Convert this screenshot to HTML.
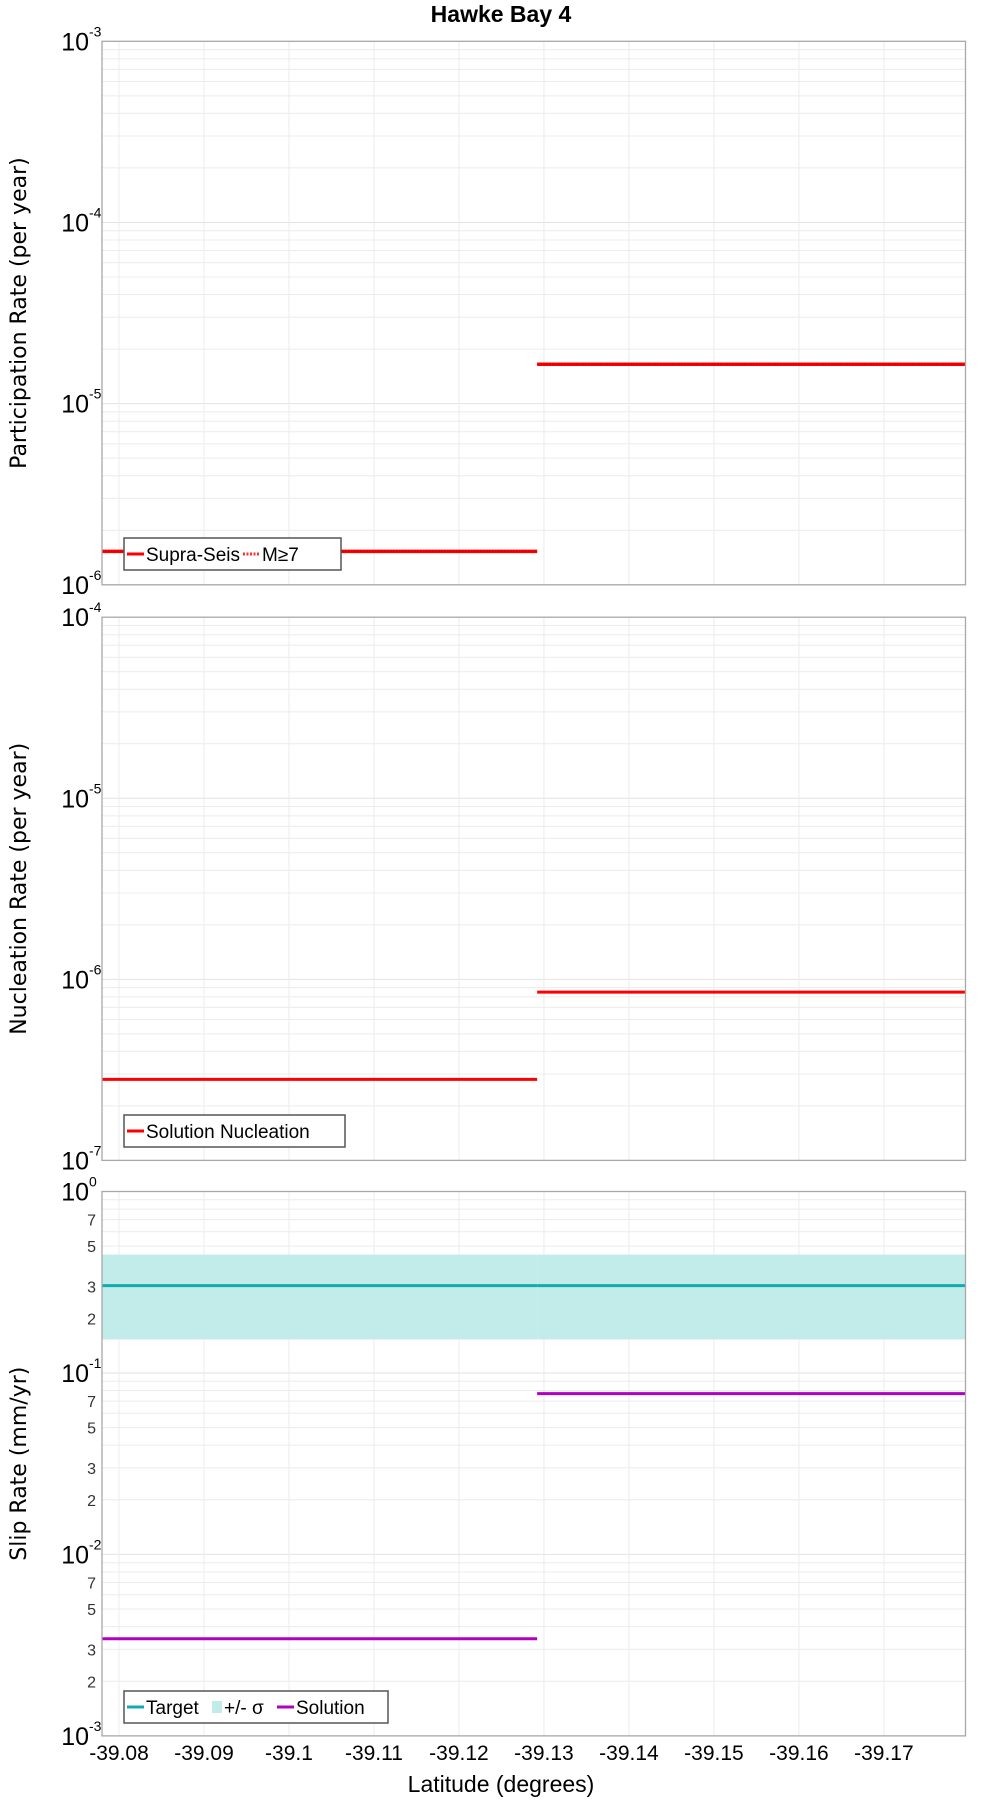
<!DOCTYPE html>
<html><head><meta charset="utf-8"><style>
html,body{margin:0;padding:0;background:#fff;}
svg{display:block;font-family:"Liberation Sans",sans-serif;}
</style></head><body>
<svg id="chart" width="1000" height="1800" viewBox="0 0 1000 1800" xmlns="http://www.w3.org/2000/svg">
<text x="501" y="22" text-anchor="middle" font-size="23" font-weight="bold">Hawke Bay 4</text>
<text x="501" y="1792" text-anchor="middle" font-size="23">Latitude (degrees)</text>
</svg>
<script>
const xTicks = [-39.08,-39.09,-39.1,-39.11,-39.12,-39.13,-39.14,-39.15,-39.16,-39.17];
const xDomain = [-39.078,-39.1796];
const segLat = [-39.078,-39.1292,-39.1796];
const partSupra = [1.53e-6,1.65e-5];
const partM7 = [1.53e-6,1.65e-5];
const nuclSol = [2.8e-7,8.5e-7];
const slipTarget = [0.303,0.303];
const slipUpper = [0.449,0.449];
const slipLower = [0.153,0.153];
const slipSol = [0.00343,0.077];
const panel1Decades = [-6,-3];
const panel2Decades = [-7,-4];
const panel3Decades = [-3,0];

const NS="http://www.w3.org/2000/svg";
const svg=document.getElementById('chart');
const L=102,R=965.5;
function xs(v){return L+(v-xDomain[0])/(xDomain[1]-xDomain[0])*(R-L);}
function mk(tag,attrs,parent){const e=document.createElementNS(NS,tag);for(const k in attrs)e.setAttribute(k,attrs[k]);(parent||svg).appendChild(e);return e;}

function panel(top,bot,dec,title,name,minorLabels){
  const g=mk('g',{});
  
  
  const ys=v=>bot-(Math.log10(v)-dec[0])/(dec[1]-dec[0])*(bot-top);
  for(let d=dec[0];d<dec[1];d++){for(let m=1;m<10;m++){const y=ys(m*Math.pow(10,d));
    const ln=mk('line',{x1:L,x2:R,y1:y,y2:y,stroke:m===1?'#e2e2e2':'#ececec','stroke-width':1},g);
    }}
  xTicks.forEach(t=>{const x=xs(t);const ln=mk('line',{x1:x,x2:x,y1:top,y2:bot,stroke:'#ececec','stroke-width':1},g);
    });
  for(let d=dec[0];d<=dec[1];d++){const y=ys(Math.pow(10,d));
    const t=mk('text',{x:89,y:y+9,'text-anchor':'end','font-size':25},g);
    
    t.textContent='10';
    const s=mk('text',{x:89,y:y-5,'font-size':14},g);s.textContent=String(d);
    }
  if(minorLabels){for(let d=dec[0];d<dec[1];d++){[2,3,5,7].forEach(m=>{const y=ys(m*Math.pow(10,d));
    const t=mk('text',{x:96,y:y+6,'text-anchor':'end','font-size':16,fill:'#333'},g);t.textContent=m;
    });}}
  const yt=mk('text',{x:0,y:0,'text-anchor':'middle','font-size':22,'font-family':'"DejaVu Sans",sans-serif',transform:`translate(26,${(top+bot)/2}) rotate(-90)`},g);
  yt.textContent=title;
  return {g,ys};
}
function steps(g,ys,vals,attrs,name){
  vals.forEach((v,i)=>{const y=ys(v);const a=Object.assign({x1:xs(segLat[i]),x2:xs(segLat[i+1]),y1:y,y2:y},attrs);
    const ln=mk('line',a,g);});
}
function border(g,top,bot){const r=mk('rect',{x:L,y:top,width:R-L,height:bot-top,fill:'none',stroke:'#a8a8a8','stroke-width':1.3},g);
  }
function legend(g,x,y,w,items){
  const box=mk('g',{},g);
  mk('rect',{x:x,y:y,width:w,height:32,fill:'#fff',stroke:'#555','stroke-width':1.5},box);
  let cx=x+3;
  items.forEach(it=>{const e=mk('g',{},box);
    if(it.band){mk('rect',{x:cx,y:y+10,width:10,height:12,fill:'#c2ecea'},e);cx+=12;}
    else{mk('line',{x1:cx,x2:cx+17,y1:y+16,y2:y+16,stroke:it.c,'stroke-width':3,'stroke-dasharray':it.dash||''},e);cx+=19;}
    const t=mk('text',{x:cx,y:y+23,'font-size':19},e);t.textContent=it.t;cx+=it.w;});
}
let p=panel(41.3,584.8,panel1Decades,'Participation Rate (per year)','participation-panel',false);
steps(p.g,p.ys,partSupra,{stroke:'#ff0000','stroke-width':3.5},'supra-seis-line');
steps(p.g,p.ys,partM7,{stroke:'#cc0000','stroke-width':1.5,'stroke-dasharray':'1.5 1.5'},'m7-line');
border(p.g,41.3,584.8);
legend(p.g,124,538,217,[{c:'#ff0000',t:'Supra-Seis',w:97},{c:'#ff3030',t:'M≥7',w:40,dash:'2 1.5'}]);
p=panel(617.2,1160.4,panel2Decades,'Nucleation Rate (per year)','nucleation-panel',false);
steps(p.g,p.ys,nuclSol,{stroke:'#ff0000','stroke-width':3},'nucleation-line');
border(p.g,617.2,1160.4);
legend(p.g,124,1115,221,[{c:'#ff0000',t:'Solution Nucleation',w:180}]);
p=panel(1191.5,1735.9,panel3Decades,'Slip Rate (mm/yr)','slip-rate-panel',true);
slipUpper.forEach((u,i)=>{const y1=p.ys(u),y2=p.ys(slipLower[i]);
  const r=mk('rect',{x:xs(segLat[i]),y:y1,width:xs(segLat[i+1])-xs(segLat[i]),height:y2-y1,fill:'#c2ecea'},p.g);
  });
steps(p.g,p.ys,slipTarget,{stroke:'#13acac','stroke-width':3},'target-line');
steps(p.g,p.ys,slipSol,{stroke:'#b000c0','stroke-width':3},'solution-line');
border(p.g,1191.5,1735.9);
legend(p.g,124,1691,264,[{c:'#13acac',t:'Target',w:66},{band:true,t:'+/- σ',w:53},{c:'#b000c0',t:'Solution',w:80}]);
xTicks.forEach(t=>{const e=mk('text',{x:xs(t),y:1760,'text-anchor':'middle','font-size':21});
  e.textContent=String(t);});
</script>
</body></html>
